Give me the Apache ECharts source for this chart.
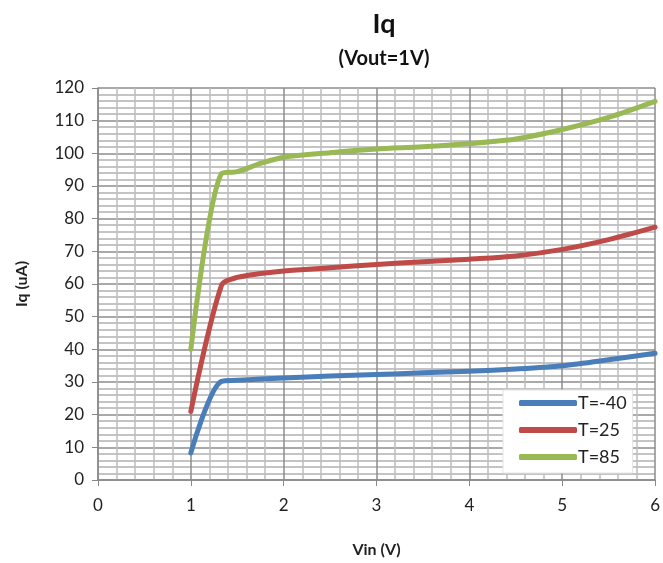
<!DOCTYPE html>
<html>
<head>
<meta charset="utf-8">
<script src="https://cdn.jsdelivr.net/npm/echarts@6/dist/echarts.min.js"></script>
<style>html,body{margin:0;padding:0;background:#fff}#c{width:663px;height:563px}</style>
</head>
<body>
<div id="c"></div>
<script>
var vin = [1.0, 1.33, 1.5, 1.75, 2.0, 2.5, 3.0, 3.5, 4.0, 4.5, 5.0, 5.5, 6.0];
var tMinus40 = [8.3, 30.2, 30.5, 30.9, 31.2, 31.8, 32.3, 32.8, 33.3, 34.0, 35.0, 36.8, 38.8];
var t25 = [21.0, 59.6, 62.0, 63.2, 64.0, 65.0, 66.0, 66.8, 67.6, 68.6, 70.6, 73.6, 77.4];
var t85 = [40.0, 93.8, 94.4, 96.9, 98.8, 100.2, 101.3, 102.0, 103.0, 104.4, 107.3, 111.0, 115.9];
var seriesNames = ['T=-40', 'T=25', 'T=85'];
var seriesColors = ['#4A7EBB', '#BE4B48', '#98B954'];

function pairs(ys) { return vin.map(function (x, i) { return [x, ys[i]]; }); }
var allData = [tMinus40, t25, t85];

var font = 'Lato, "Open Sans", sans-serif';
var chart = echarts.init(document.getElementById('c'));
chart.setOption({
  animation: false,
  backgroundColor: '#fff',
  title: [
    { text: 'Iq', left: 379, top: 6, textAlign: 'center',
      textStyle: { fontFamily: font, fontSize: 27, fontWeight: 'bold', color: '#111' } },
    { text: '(Vout=1V)', left: 379, top: 44, textAlign: 'center',
      textStyle: { fontFamily: font, fontSize: 20, fontWeight: 'bold', color: '#111' } }
  ],
  grid: { left: 98, right: 4, top: 88, bottom: 83, containLabel: false },
  legend: {
    orient: 'vertical', left: 503, top: 390,
    backgroundColor: '#fff', padding: [4, 6, 7, 16],
    borderColor: '#e4e4e4', borderWidth: 1,
    itemWidth: 58, itemHeight: 6, itemGap: 9, icon: 'roundRect',
    textStyle: { fontFamily: font, fontSize: 18, color: '#222', padding: [0, 0, 0, -4] },
    data: seriesNames
  },
  xAxis: {
    type: 'value', min: 0, max: 6, interval: 1,
    name: 'Vin (V)', nameLocation: 'middle', nameGap: 62,
    nameTextStyle: { fontFamily: font, fontSize: 16, fontWeight: 'bold', color: '#222' },
    axisLine: { lineStyle: { color: '#888', width: 1.5 } },
    axisTick: { show: true, length: 6, lineStyle: { color: '#888' } },
    minorTick: { show: false, splitNumber: 5 },
    axisLabel: { fontFamily: font, fontSize: 17, color: '#222', margin: 17 },
    splitLine: { show: true, lineStyle: { color: '#8c8c8c', width: 1.5 } },
    minorSplitLine: { show: true, lineStyle: { color: '#bdbdbd', width: 1.5 } }
  },
  yAxis: {
    type: 'value', min: 0, max: 120, interval: 10,
    name: 'Iq (uA)', nameLocation: 'middle', nameGap: 68, nameRotate: 90,
    nameTextStyle: { fontFamily: font, fontSize: 16, fontWeight: 'bold', color: '#222' },
    axisLine: { show: true, lineStyle: { color: '#888', width: 1.5 } },
    axisTick: { show: true, length: 6, lineStyle: { color: '#888' } },
    minorTick: { show: false, splitNumber: 5 },
    axisLabel: { fontFamily: font, fontSize: 17, color: '#222', margin: 14 },
    splitLine: { show: true, lineStyle: { color: '#8c8c8c', width: 1.5 } },
    minorSplitLine: { show: true, lineStyle: { color: '#c4c4c4', width: 1.8 } }
  },
  series: seriesNames.map(function (n, i) {
    return {
      name: n, type: 'line', data: pairs(allData[i]),
      smooth: 0.3, showSymbol: false, symbol: 'none',
      color: seriesColors[i],
      lineStyle: { width: 5, color: seriesColors[i], cap: 'round', join: 'round' }
    };
  })
});
</script>
</body>
</html>
